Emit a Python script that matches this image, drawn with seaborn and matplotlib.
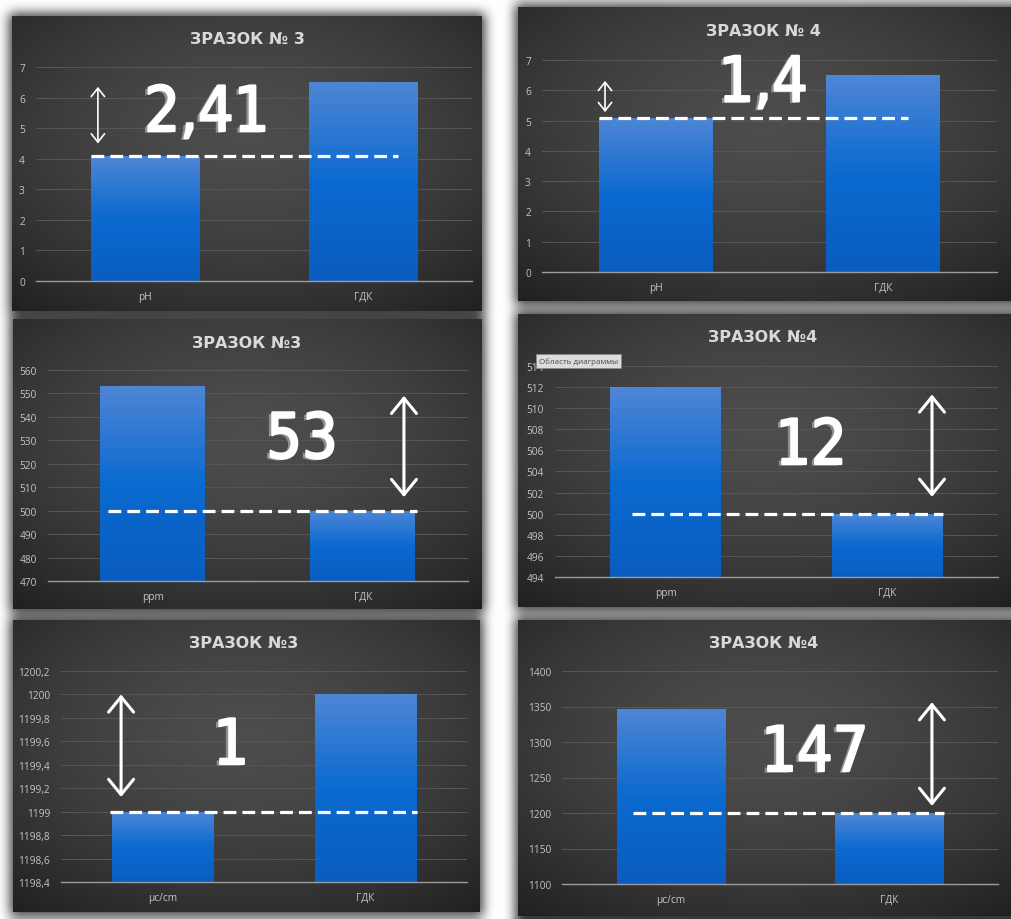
import numpy as np
import matplotlib
matplotlib.use("Agg")
import matplotlib.pyplot as plt
import seaborn as sns
from matplotlib import patheffects as pe
from matplotlib import font_manager as fm
from matplotlib.colors import LinearSegmentedColormap
from matplotlib.ticker import FuncFormatter

# ---------------- data ----------------
titles = ["ЗРАЗОК № 3", "ЗРАЗОК № 4", "ЗРАЗОК №3", "ЗРАЗОК №4", "ЗРАЗОК №3", "ЗРАЗОК №4"]

ph_labels = ["pH", "ГДК"]
ph_sample3 = [4.09, 6.5]
ph_sample4 = [5.1, 6.5]

ppm_labels = ["ppm", "ГДК"]
ppm_sample3 = [553, 500]
ppm_sample4 = [512, 500]

ec_labels = ["µc/cm", "ГДК"]
ec_sample3 = [1199, 1200]
ec_sample4 = [1347, 1200]

diff_labels = ["2,41", "1,4", "53", "12", "1", "147"]

ph_ticks = [0, 1, 2, 3, 4, 5, 6, 7]
ppm3_ticks = [470, 480, 490, 500, 510, 520, 530, 540, 550, 560]
ppm4_ticks = [494, 496, 498, 500, 502, 504, 506, 508, 510, 512, 514]
ec3_ticks = [1198.4, 1198.6, 1198.8, 1199.0, 1199.2, 1199.4, 1199.6, 1199.8, 1200.0, 1200.2]
ec4_ticks = [1100, 1150, 1200, 1250, 1300, 1350, 1400]

tooltip_text = "Область диаграммы"

# ---------------- layout (pixels) ----------------
W, H, DPI = 1012, 920, 100
panels = [
    dict(labels=ph_labels, values=ph_sample3, ticks=ph_ticks,
         box=(12, 17, 482, 312), axes=(36, 68, 472, 282), title_xy=(247, 39),
         dash=(-0.25, 1.16), arrow=(-0.216, 4.5, 6.35), arrow_big=False, text_xy=(0.392, 0.78)),
    dict(labels=ph_labels, values=ph_sample4, ticks=ph_ticks,
         box=(518, 8, 1012, 302), axes=(542, 61, 997, 273), title_xy=(763, 32),
         dash=(-0.25, 1.11), arrow=(-0.223, 5.28, 6.31), arrow_big=False, text_xy=(0.486, 0.885)),
    dict(labels=ppm_labels, values=ppm_sample3, ticks=ppm3_ticks,
         box=(13, 320, 482, 610), axes=(48, 371, 468, 582), title_xy=(247, 343),
         dash=(-0.214, 1.257), arrow=(1.195, 505.8, 549), arrow_big=True, text_xy=(0.605, 0.664)),
    dict(labels=ppm_labels, values=ppm_sample4, ticks=ppm4_ticks,
         box=(518, 315, 1012, 608), axes=(555, 367, 998, 578), title_xy=(763, 338),
         dash=(-0.152, 1.252), arrow=(1.202, 501.6, 511.3), arrow_big=True, text_xy=(0.578, 0.616)),
    dict(labels=ec_labels, values=ec_sample3, ticks=ec3_ticks,
         box=(13, 621, 480, 913), axes=(61, 672, 467, 883), title_xy=(244, 643),
         dash=(-0.259, 1.254), arrow=(-0.204, 1199.125, 1200.0), arrow_big=True, text_xy=(0.419, 0.64)),
    dict(labels=ec_labels, values=ec_sample4, ticks=ec4_ticks,
         box=(518, 621, 1012, 917), axes=(562, 672, 998, 885), title_xy=(764, 644),
         dash=(-0.174, 1.252), arrow=(1.197, 1210, 1356), arrow_big=True, text_xy=(0.58, 0.61)),
]

sns.set_theme(style="white")
plt.rcParams["font.family"] = ["Open Sans", "DejaVu Sans"]

# narrow face for the large gap numbers
installed = fm.fontManager.ttflist
names = {f.name for f in installed}
has_dejavu_cond = any(f.name == "DejaVu Sans" and "ondensed" in f.fname for f in installed)
if "Liberation Sans Narrow" in names:
    big_font = dict(family=["Liberation Sans Narrow", "DejaVu Sans"], fontweight="bold", fontsize=46)
elif has_dejavu_cond:
    big_font = dict(family=["DejaVu Sans"], fontstretch="condensed", fontweight="normal", fontsize=45)
else:
    big_font = dict(family=["Roboto", "DejaVu Sans"], fontweight="normal", fontsize=46)


# ---------------- page background: white sheet, soft shadows, dark chart areas ----------------
def box_blur(a, r):
    k = 2 * r + 1
    p = np.pad(a, r, mode="edge")
    c = np.cumsum(p, axis=0)
    c = np.vstack([np.zeros((1, c.shape[1])), c])
    a1 = (c[k:] - c[:-k]) / k
    c = np.cumsum(a1, axis=1)
    c = np.hstack([np.zeros((c.shape[0], 1)), c])
    return (c[:, k:] - c[:, :-k]) / k


page = np.ones((H, W))
mask = np.zeros((H, W))
for pnl in panels:
    x0, y0, x1, y1 = pnl["box"]
    mask[max(y0 - 3, 0):min(y1 + 4, H), max(x0 - 3, 0):min(x1 + 3, W)] = 1.0
shadow = mask
for _ in range(3):
    shadow = box_blur(shadow, 5)
page = page - 0.78 * shadow

for pnl in panels:
    x0, y0, x1, y1 = pnl["box"]
    yy, xx = np.mgrid[y0:y1, x0:x1]
    cx, cy = (x0 + x1) / 2, (y0 + y1) / 2 - 0.1 * (y1 - y0)
    r = np.sqrt(((xx - cx) / ((x1 - x0) / 2)) ** 2 + ((yy - cy) / ((y1 - y0) / 2)) ** 2) / np.sqrt(2)
    page[y0:y1, x0:x1] = 0.30 - 0.15 * np.clip(r, 0, 1.2) ** 1.6

fig = plt.figure(figsize=(W / DPI, H / DPI), dpi=DPI)
bg = fig.add_axes([0, 0, 1, 1])
bg.imshow(np.dstack([page] * 3).clip(0, 1), extent=[0, W, H, 0], aspect="auto", interpolation="bilinear")
bg.set_xlim(0, W)
bg.set_ylim(H, 0)
bg.axis("off")

bar_cmap = LinearSegmentedColormap.from_list(
    "bar", [(0.0, "#4f86d5"), (0.5, "#0b6ad0"), (1.0, "#0a5dbf")])
grad = np.linspace(0, 1, 256).reshape(-1, 1)


def fmt_tick(v, _pos):
    return ("%g" % round(v, 6)).replace(".", ",")


for pnl, title, diff in zip(panels, titles, diff_labels):
    l, t, rgt, b = pnl["axes"]
    ax = fig.add_axes([l / W, 1 - b / H, (rgt - l) / W, (b - t) / H])
    ax.set_facecolor("none")

    sns.barplot(x=pnl["labels"], y=pnl["values"], ax=ax, color="#0b6ad0",
                width=0.5, saturation=1, linewidth=0)
    ticks = pnl["ticks"]
    ylo, yhi = ticks[0], ticks[-1]

    # vertical gradient on every bar
    for patch in list(ax.patches):
        px0 = patch.get_x()
        pw = patch.get_width()
        top = patch.get_y() + patch.get_height()
        im = ax.imshow(grad, extent=[px0, px0 + pw, ylo, top], origin="upper",
                       cmap=bar_cmap, aspect="auto", zorder=2, interpolation="bilinear")
        im.set_clip_path(patch)

    ax.set_xlim(-0.5, 1.5)
    ax.set_ylim(ylo, yhi)
    ax.set_yticks(ticks)
    ax.yaxis.set_major_formatter(FuncFormatter(fmt_tick))
    ax.yaxis.grid(True, color="#575757", lw=0.7)
    ax.xaxis.grid(False)
    ax.set_axisbelow(True)
    for side in ("left", "right", "top"):
        ax.spines[side].set_visible(False)
    ax.spines["bottom"].set_color("#9c9c9c")
    ax.spines["bottom"].set_linewidth(1.0)
    ax.spines["bottom"].set_zorder(4)
    ax.tick_params(axis="y", length=0, labelsize=7.3, labelcolor="#c4c4c4", pad=8)
    ax.tick_params(axis="x", length=0, labelsize=7.3, labelcolor="#c4c4c4", pad=7)
    ax.set_xlabel("")
    ax.set_ylabel("")

    # reference level: the lower of the two values
    level = min(pnl["values"])
    ax.plot(list(pnl["dash"]), [level, level], color="white", lw=2.3,
            dashes=(4.0, 1.9), dash_capstyle="butt", zorder=6)

    # double-headed arrow marking the gap
    axx, ay0, ay1 = pnl["arrow"]
    if pnl["arrow_big"]:
        style, lw, ms = "<->,head_length=0.55,head_width=0.45", 2.2, 20
    else:
        style, lw, ms = "<->,head_length=0.5,head_width=0.4", 1.2, 12
    ax.annotate("", xy=(axx, ay1), xytext=(axx, ay0), xycoords="data",
                arrowprops=dict(arrowstyle=style, color="white", lw=lw,
                                mutation_scale=ms, shrinkA=0, shrinkB=0),
                zorder=7, annotation_clip=False)

    # size of the gap: white face over a grey offset shading
    ax.text(pnl["text_xy"][0], pnl["text_xy"][1], diff, transform=ax.transAxes,
            ha="center", va="center", color="white", zorder=8,
            path_effects=[pe.SimplePatchShadow(offset=(-2.5, -1.2),
                                               shadow_rgbFace="#8f8f8f", alpha=1.0),
                          pe.Stroke(linewidth=1.6, foreground="white"),
                          pe.Normal()],
            **big_font)

    tx, ty = pnl["title_xy"]
    fig.text(tx / W, 1 - ty / H, title, ha="center", va="center", fontsize=11.5,
             fontweight="bold", color="#d9d9d9", family=["DejaVu Sans"])

# hover hint over the ppm chart of sample 4
fig.text(539 / W, 1 - 362 / H, tooltip_text, ha="left", va="center", fontsize=5.8,
         color="#4a4a4a", family=["Open Sans", "DejaVu Sans"], zorder=10,
         bbox=dict(boxstyle="square,pad=0.35", fc="#dcdcdc", ec="#8a8a8a", lw=0.6))

fig.savefig("out.png", dpi=DPI)
